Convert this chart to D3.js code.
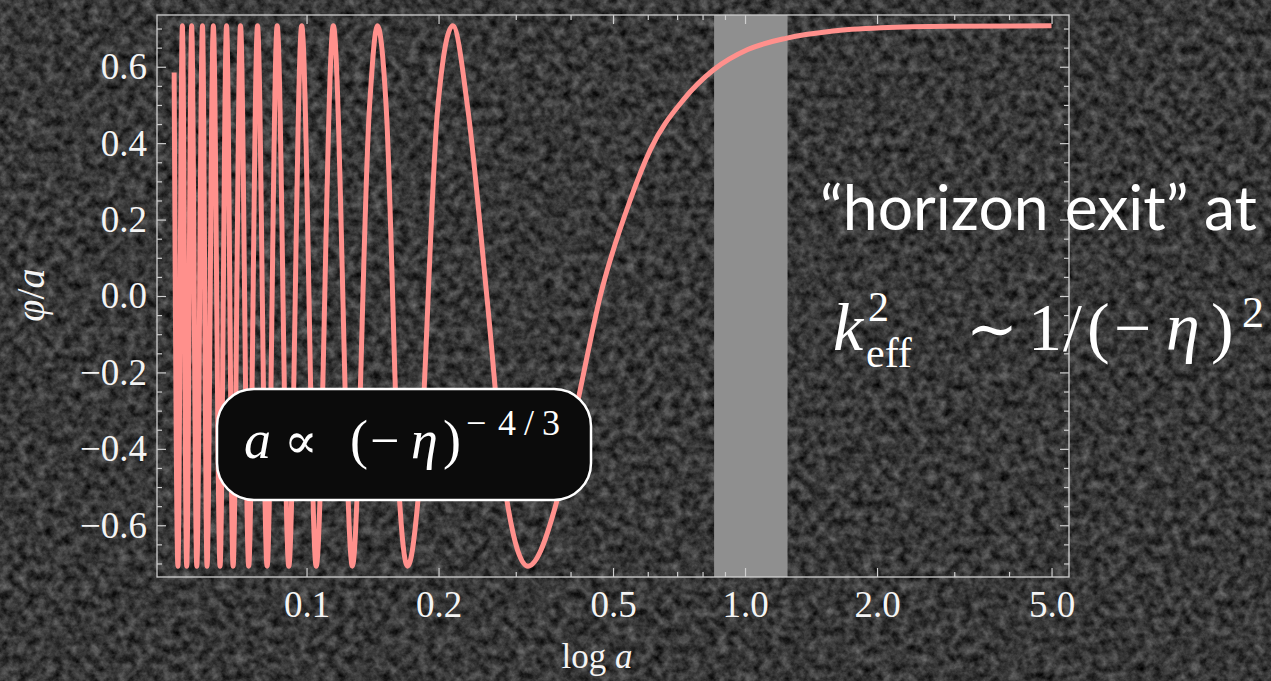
<!DOCTYPE html>
<html>
<head>
<meta charset="utf-8">
<script src="https://cdn.jsdelivr.net/npm/d3@7"></script>
<style>
  html, body { margin: 0; padding: 0; background: #3a3a3a; overflow: hidden; }
  svg { display: block; }
</style>
</head>
<body>
<svg id="chart" width="1271" height="681"></svg>
<script>
// mode function phi/a against scale factor a
const aValues = [
  0.0499, 0.0509, 0.0521, 0.0533, 0.0547, 0.0562, 0.0579, 0.0593, 0.0613, 0.0635,
  0.0657, 0.0680, 0.0707, 0.0738, 0.0773, 0.0813, 0.0857, 0.0911, 0.0975, 0.1052,
  0.1151, 0.1272, 0.1391, 0.1451, 0.1520, 0.1630, 0.1700, 0.1795, 0.1991, 0.2155,
  0.2332, 0.2577, 0.2864, 0.3199, 0.3726, 0.4207, 0.4676, 0.5476, 0.6083, 0.7240,
  0.8479, 1.0143, 1.2457, 1.5709, 2.0443, 2.9100, 5.0
];
const phiValues = [
  0.585, -0.707, 0.707, -0.707, 0.707, -0.707, 0.707, -0.707, 0.707, -0.707,
  0.707, -0.707, 0.707, -0.707, 0.707, -0.707, 0.707, -0.707, 0.707, -0.707,
  0.707, -0.707, 0.49, 0.707, 0.49, -0.535, -0.707, -0.535, 0.49, 0.707,
  0.49, 0.0, -0.535, -0.707, -0.535, -0.246, 0.0, 0.252, 0.383, 0.514,
  0.592, 0.645, 0.675, 0.693, 0.702, 0.706, 0.707
];

const xMajorTicks = [0.1, 0.2, 0.5, 1, 2, 5];
const xMinorTicks = [0.3, 0.4, 0.6, 0.7, 0.8, 0.9, 3, 4];
const yMajorTicks = [-0.6, -0.4, -0.2, 0, 0.2, 0.4, 0.6];
const yMinorTicks = [-0.7, -0.65, -0.55, -0.5, -0.45, -0.35, -0.3, -0.25, -0.15, -0.1, -0.05,
                     0.05, 0.1, 0.15, 0.25, 0.3, 0.35, 0.45, 0.5, 0.55, 0.65, 0.7];

// shaded "horizon exit" interval in a
const exitBand = [0.85, 1.25];

const xDomain = [0.0456, 5.48];
const yDomain = [-0.7354, 0.7354];

const W = 1271, H = 681;
const plot = { left: 157, right: 1069, top: 15, bottom: 577 };

const serif = "'Liberation Serif', 'DejaVu Serif', serif";
const svg = d3.select("#chart");

// grainy dark backdrop
const defs = svg.append("defs");
const grain = defs.append("filter").attr("id", "grain")
  .attr("x", 0).attr("y", 0).attr("width", "100%").attr("height", "100%")
  .attr("color-interpolation-filters", "sRGB");
grain.append("feTurbulence").attr("type", "fractalNoise")
  .attr("baseFrequency", 0.11).attr("numOctaves", 4).attr("seed", 7);
grain.append("feColorMatrix").attr("type", "matrix")
  .attr("values", "0.5 0 0 0 -0.03  0.5 0 0 0 -0.03  0.5 0 0 0 -0.03  0 0 0 0 1");
svg.append("rect").attr("width", W).attr("height", H).attr("filter", "url(#grain)");

const x = d3.scaleLog().domain(xDomain).range([plot.left, plot.right]);
const y = d3.scaleLinear().domain(yDomain).range([plot.bottom, plot.top]);

// band
svg.append("rect")
  .attr("x", x(exitBand[0]))
  .attr("y", plot.top)
  .attr("width", x(exitBand[1]) - x(exitBand[0]))
  .attr("height", plot.bottom - plot.top)
  .attr("fill", "#8f8f8f");

// curve
const points = aValues.map((a, i) => [a, phiValues[i]]);
const line = d3.line()
  .x(d => x(d[0]))
  .y(d => y(d[1]))
  .curve(d3.curveMonotoneX);

svg.append("path")
  .datum(points)
  .attr("d", line)
  .attr("fill", "none")
  .attr("stroke", "#ff908c")
  .attr("stroke-width", 5);

// axes: ticks point inward on all four sides
const frameColor = "#cfcfcf";
const fmt = d3.format(".1f");

function styleAxis(g, labels) {
  g.attr("font-size", null).attr("font-family", null);
  g.select(".domain").remove();
  g.selectAll(".tick line").attr("stroke", frameColor).attr("stroke-width", 1.2);
  g.selectAll(".tick text")
    .attr("fill", labels ? "#f4f4f4" : "none")
    .style("font-family", serif)
    .style("font-size", "37px");
}

svg.append("g").attr("transform", `translate(0,${plot.bottom})`)
  .call(d3.axisBottom(x).tickValues(xMajorTicks).tickFormat(fmt).tickSize(-9).tickPadding(14))
  .call(g => styleAxis(g, true));
svg.append("g").attr("transform", `translate(0,${plot.bottom})`)
  .call(d3.axisBottom(x).tickValues(xMinorTicks).tickFormat("").tickSize(-5))
  .call(g => styleAxis(g, false));
svg.append("g").attr("transform", `translate(0,${plot.top})`)
  .call(d3.axisTop(x).tickValues(xMajorTicks).tickFormat("").tickSize(-9))
  .call(g => styleAxis(g, false));
svg.append("g").attr("transform", `translate(0,${plot.top})`)
  .call(d3.axisTop(x).tickValues(xMinorTicks).tickFormat("").tickSize(-5))
  .call(g => styleAxis(g, false));

svg.append("g").attr("transform", `translate(${plot.left},0)`)
  .call(d3.axisLeft(y).tickValues(yMajorTicks).tickFormat(fmt).tickSize(-9).tickPadding(10))
  .call(g => styleAxis(g, true));
svg.append("g").attr("transform", `translate(${plot.left},0)`)
  .call(d3.axisLeft(y).tickValues(yMinorTicks).tickFormat("").tickSize(-5))
  .call(g => styleAxis(g, false));
svg.append("g").attr("transform", `translate(${plot.right},0)`)
  .call(d3.axisRight(y).tickValues(yMajorTicks).tickFormat("").tickSize(-9))
  .call(g => styleAxis(g, false));
svg.append("g").attr("transform", `translate(${plot.right},0)`)
  .call(d3.axisRight(y).tickValues(yMinorTicks).tickFormat("").tickSize(-5))
  .call(g => styleAxis(g, false));

svg.append("rect")
  .attr("x", plot.left).attr("y", plot.top)
  .attr("width", plot.right - plot.left).attr("height", plot.bottom - plot.top)
  .attr("fill", "none").attr("stroke", frameColor).attr("stroke-width", 1.3);

// axis titles
const xTitle = svg.append("text")
  .attr("x", 597).attr("y", 668)
  .attr("text-anchor", "middle")
  .attr("font-family", serif).attr("font-size", 35).attr("fill", "#f4f4f4");
xTitle.append("tspan").text("log ");
xTitle.append("tspan").attr("font-style", "italic").text("a");

const yTitle = svg.append("text")
  .attr("transform", "translate(44,295) rotate(-90)")
  .attr("text-anchor", "middle")
  .attr("font-family", serif).attr("font-size", 40).attr("fill", "#f4f4f4");
yTitle.append("tspan").attr("font-style", "italic").text("φ");
yTitle.append("tspan").text("/");
yTitle.append("tspan").attr("font-style", "italic").text("a");

// one text element per formula, glyphs placed by tspans
function formula(runs) {
  const t = svg.append("text")
    .attr("font-family", serif)
    .attr("fill", "#ffffff");
  runs.forEach(r => {
    t.append("tspan")
      .attr("x", r.x).attr("y", r.y)
      .attr("font-size", r.size)
      .attr("font-style", r.italic ? "italic" : "normal")
      .text(r.t);
  });
  return t;
}

// a ∝ (−η)^(−4/3) label box
svg.append("rect")
  .attr("x", 217).attr("y", 389).attr("width", 374).attr("height", 111)
  .attr("rx", 37).attr("ry", 37)
  .attr("fill", "#0b0b0b")
  .attr("stroke", "#ffffff").attr("stroke-width", 2.5);

formula([
  { t: "a", x: 244, y: 458, size: 54, italic: true },
  { t: "∝", x: 284, y: 458, size: 50 },
  { t: "(", x: 350, y: 458, size: 54 },
  { t: "−", x: 370, y: 458, size: 52 },
  { t: "η", x: 411, y: 458, size: 54, italic: true },
  { t: ")", x: 443, y: 458, size: 54 },
  { t: "−", x: 466, y: 435, size: 36 },
  { t: "4", x: 498, y: 435, size: 36 },
  { t: "/", x: 524, y: 435, size: 36 },
  { t: "3", x: 542, y: 435, size: 36 }
]);

// "horizon exit" annotation
const exitText = svg.append("text")
  .attr("x", 820).attr("y", 230)
  .attr("font-family", "Lato, 'Open Sans', sans-serif")
  .attr("font-size", 56)
  .attr("fill", "#ffffff")
  .text("“horizon exit” at");
const exitLen = exitText.node().getComputedTextLength();
exitText.attr("font-size", 56 * 437 / exitLen);

formula([
  { t: "k", x: 833, y: 350, size: 68, italic: true },
  { t: "2", x: 868, y: 321, size: 42 },
  { t: "eff", x: 866, y: 367, size: 42 },
  { t: "∼", x: 966, y: 350, size: 62 },
  { t: "1", x: 1028, y: 350, size: 68 },
  { t: "/", x: 1063, y: 350, size: 68 },
  { t: "(", x: 1087, y: 350, size: 68 },
  { t: "−", x: 1114, y: 350, size: 66 },
  { t: "η", x: 1166, y: 350, size: 68, italic: true },
  { t: ")", x: 1211, y: 350, size: 68 },
  { t: "2", x: 1242, y: 327, size: 44 }
]);
</script>
</body>
</html>
